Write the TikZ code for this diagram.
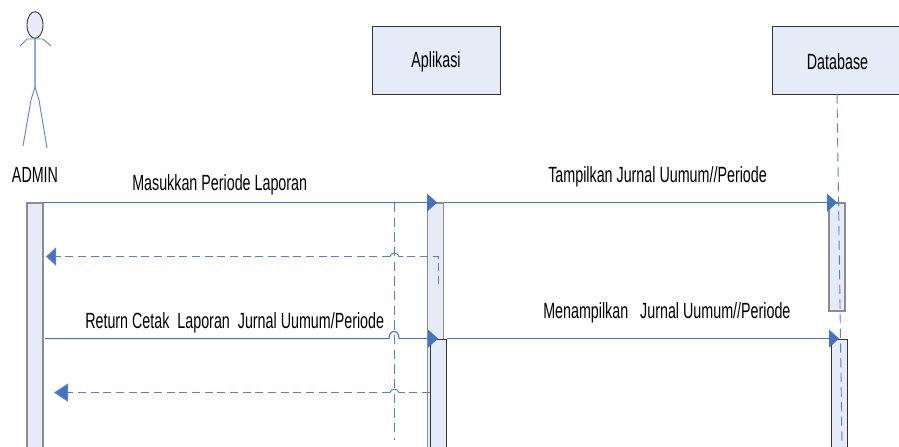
\documentclass[tikz,border=0pt]{standalone}
\usepackage{fontspec}
\setmainfont[FakeStretch=0.65]{Liberation Sans}
\usetikzlibrary{arrows.meta,shapes.geometric}
\definecolor{flow}{HTML}{4472C4}
\definecolor{lightflow}{HTML}{8FAADC}
\definecolor{boxfill}{HTML}{E6ECF7}
\definecolor{edgegray}{HTML}{8C8C8C}
\definecolor{edgedark}{HTML}{333333}
\tikzset{
  px/.style={x=0.75pt,y=-0.75pt},
  lifebox/.style={draw=edgedark,line width=0.65pt,fill=boxfill,minimum height=51pt,inner sep=0pt},
  actgray/.style={draw=edgegray,line width=0.9pt,fill=boxfill,minimum width=12pt,inner sep=0pt},
  actdark/.style={draw=edgedark,line width=0.65pt,fill=boxfill,minimum width=12pt,inner sep=0pt},
  lbl/.style={inner sep=0pt,font=\fontsize{16.5}{18}\selectfont,text=black},
  msg/.style={draw=flow,line width=0.85pt},
  msgtip/.style={msg,-{Triangle[length=7.5pt,width=13.5pt,fill=flow]}},
  dsh/.style={draw=flow!90!white,line width=0.85pt,dash pattern=on 6pt off 3.5pt},
  dshtip/.style={dsh,-{Triangle[length=7.5pt,width=13.5pt,fill=flow,sep=0pt]}},
  life/.style={draw=flow!90!white,line width=0.7pt,dash pattern=on 7pt off 4pt},
  stick/.style={draw=flow!85!white,line width=0.7pt},
}
\begin{document}
\begin{tikzpicture}[px]
\clip (0,0) rectangle (899,446);
\fill[white] (0,0) rectangle (899,446);
% lifeline head boxes
\node[lifebox,minimum width=96pt] (app) at (436,60) {};
\node[lifebox,minimum width=96pt] (db) at (836,60) {};
\node[lbl] (appT) at (436,61.5) {Aplikasi};
\node[lbl] (dbT) at (837.5,61.5) {Database};
% activation bars
\node[actgray,minimum height=195pt] (barA) at (35,333) {};
\node[actgray,minimum height=195pt] (barB) at (435.5,333) {};
\node[actgray,minimum height=81pt] (barC) at (837,257) {};
\node[actdark,minimum height=84pt] (barD) at (438.5,395) {};
\node[actdark,minimum height=84pt] (barE) at (839,395) {};
% actor
\node[draw=edgedark,fill=boxfill,line width=0.65pt,ellipse,minimum width=12pt,minimum height=20pt,inner sep=0pt] (head) at (35,25) {};
\coordinate (neck) at (35,39);
\coordinate (hip) at (35,87);
\coordinate (handL) at (20,46);
\coordinate (armL) at (27,39);
\coordinate (armR) at (43,39);
\coordinate (handR) at (51,46);
\coordinate (kneeL) at (31,100);
\coordinate (footL) at (23,146);
\coordinate (kneeR) at (39,100);
\coordinate (footR) at (47,148);
\draw[stick] (handL) -- (armL) -- (armR) -- (handR);
\draw[draw=lightflow,line width=1pt] (neck) -- (hip);
\draw[stick] (hip) -- (kneeL) -- (footL);
\draw[stick] (hip) -- (kneeR) -- (footR);
\node[lbl] (adminT) at (35,175) {ADMIN};
% lifelines
\coordinate (appTop) at (394,203);
\coordinate (appEnd) at (394,440);
\coordinate (dbTop) at (837,94);
\coordinate (dbEnd) at (842,446);
\draw[life] (appTop) -- (appEnd);
\draw[life] (dbTop) -- (dbEnd);
% messages
\coordinate (m1a) at (43,202.6);
\coordinate (m1b) at (437,202.6);
\coordinate (m1c) at (444,202.6);
\coordinate (m1d) at (837,202.6);
\draw[msgtip] (m1a) -- (m1b);
\draw[msgtip] (m1c) -- (m1d);
% return 1
\coordinate (r1a) at (438.5,284);
\coordinate (r1b) at (438.5,256.6);
\coordinate (r1c) at (399,256.6);
\coordinate (r1d) at (390,256.6);
\coordinate (r1e) at (46,256.6);
\draw[dsh] (r1a) -- (r1b) -- (r1c);
\draw[msg,line width=0.6pt] (r1c) .. controls (398,252) and (391,252) .. (r1d);
\draw[dshtip] (r1d) -- (r1e);
% message 2
\coordinate (m2a) at (45,338.6);
\coordinate (m2b) at (389,338.6);
\coordinate (m2c) at (399,338.6);
\coordinate (m2d) at (438,338.6);
\coordinate (m2e) at (447,338.6);
\coordinate (m2f) at (839,338.6);
\draw[msg] (m2a) -- (m2b) .. controls (389,329) and (399,329) .. (m2c);
\draw[msgtip] (m2c) -- (m2d);
\draw[msgtip] (m2e) -- (m2f);
% return 2
\coordinate (r2a) at (430,392.6);
\coordinate (r2b) at (399,392.6);
\coordinate (r2c) at (390,392.6);
\coordinate (r2d) at (54,392.6);
\draw[dsh] (r2a) -- (r2b);
\draw[msg,line width=0.6pt] (r2b) .. controls (398,388) and (391,388) .. (r2c);
\draw[dsh,-{Triangle[length=10.5pt,width=13.5pt,fill=flow]}] (r2c) -- (r2d);
% labels
\node[lbl,anchor=west] (t1) at (132,185) {Masukkan Periode Laporan};
\node[lbl,anchor=west] (t2) at (548,177) {Tampilkan Jurnal Uumum//Periode};
\node[lbl,anchor=west] (t3) at (85,322.5) {Return Cetak\ \ Laporan\ \ Jurnal Uumum/Periode};
\node[lbl,anchor=west] (t4) at (543,313) {Menampilkan\ \ \ Jurnal Uumum//Periode};
\end{tikzpicture}
\end{document}
